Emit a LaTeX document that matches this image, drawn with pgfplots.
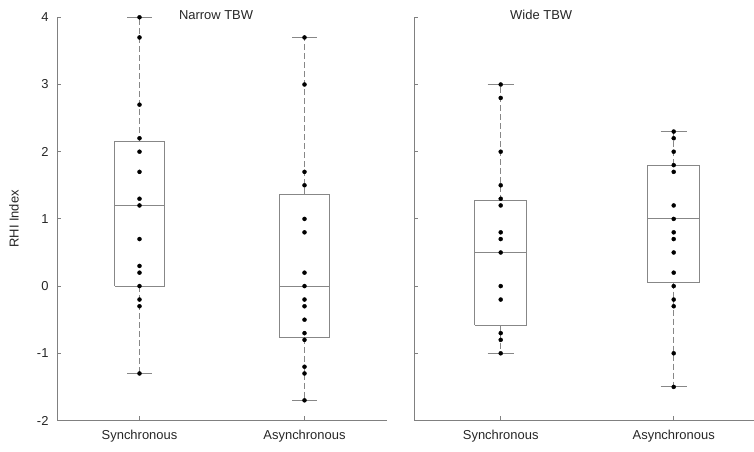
\documentclass[border=0pt]{standalone}
\usepackage{pgfplots}
\pgfplotsset{compat=1.18}
\usepackage{fontspec}
\setmainfont{Liberation Sans}
\definecolor{axgray}{RGB}{128,128,128}
\definecolor{boxgray}{RGB}{135,135,135}
\definecolor{txt}{RGB}{38,38,38}
\pgfplotsset{
  panel/.style={
    anchor=south west, y=67.2bp, ymin=-2, ymax=4, xmin=0.5,
    axis x line*=bottom, axis y line*=left,
    axis line style={axgray, line width=0.8bp},
    tick style={axgray, line width=0.8bp},
    tick align=inside, major tick length=4bp,
    xtick={1,2}, ytick={-2,-1,0,1,2,3,4},
    clip=false,
    font=\fontsize{13}{15}\selectfont,
    tick label style={txt, font=\fontsize{13}{15}\selectfont},
    xticklabel style={yshift=-6bp},
    yticklabel style={xshift=-5bp},
    /pgf/number format/assume math mode=true,
  },
  bx/.style={boxgray, line width=0.8bp, no markers},
  wh/.style={boxgray, line width=0.8bp, no markers, dash pattern=on 6bp off 3bp},
  dots/.style={only marks, mark=*, mark size=2bp, black},
}
\begin{document}
\begin{tikzpicture}
\useasboundingbox (0,0) rectangle (754bp,452bp);
% ---------------- Narrow TBW ----------------
\begin{axis}[panel, at={(57bp,31.5bp)}, x=165bp, xmax=2.5,
  xticklabels={Synchronous,Asynchronous},
  ylabel={RHI Index},
  ylabel style={txt, at={(axis description cs:-0.13,0.5)}, anchor=center}]
% Synchronous
\addplot[wh] coordinates {(1,2.15) (1,4.0)};
\addplot[wh] coordinates {(1,0) (1,-1.3)};
\addplot[bx] coordinates {(0.925,4.0) (1.075,4.0)};
\addplot[bx] coordinates {(0.925,-1.3) (1.075,-1.3)};
\addplot[bx] coordinates {(0.85,0) (1.15,0) (1.15,2.15) (0.85,2.15) (0.85,0)};
\addplot[bx] coordinates {(0.85,1.2) (1.15,1.2)};
\addplot[dots] coordinates {(1,4.0) (1,3.7) (1,2.7) (1,2.2) (1,2.0) (1,1.7) (1,1.3) (1,1.2) (1,0.7) (1,0.3) (1,0.2) (1,0) (1,-0.2) (1,-0.3) (1,-1.3)};
% Asynchronous
\addplot[wh] coordinates {(2,1.37) (2,3.7)};
\addplot[wh] coordinates {(2,-0.77) (2,-1.7)};
\addplot[bx] coordinates {(1.925,3.7) (2.075,3.7)};
\addplot[bx] coordinates {(1.925,-1.7) (2.075,-1.7)};
\addplot[bx] coordinates {(1.85,-0.77) (2.15,-0.77) (2.15,1.37) (1.85,1.37) (1.85,-0.77)};
\addplot[bx] coordinates {(1.85,0) (2.15,0)};
\addplot[dots] coordinates {(2,3.7) (2,3.0) (2,1.7) (2,1.5) (2,1.0) (2,0.8) (2,0.2) (2,0) (2,-0.2) (2,-0.3) (2,-0.5) (2,-0.7) (2,-0.8) (2,-1.2) (2,-1.3) (2,-1.7)};
\node[txt, font=\fontsize{13}{15}\selectfont] at (axis cs:1.464,4.03) {Narrow TBW};
\end{axis}
% ---------------- Wide TBW ----------------
\begin{axis}[panel, at={(414.2bp,31.5bp)}, x=173bp, xmax=2.464,
  xticklabels={Synchronous,Asynchronous},
  yticklabels={}]
% Synchronous
\addplot[wh] coordinates {(1,1.27) (1,3.0)};
\addplot[wh] coordinates {(1,-0.58) (1,-1.0)};
\addplot[bx] coordinates {(0.925,3.0) (1.075,3.0)};
\addplot[bx] coordinates {(0.925,-1.0) (1.075,-1.0)};
\addplot[bx] coordinates {(0.85,-0.58) (1.15,-0.58) (1.15,1.27) (0.85,1.27) (0.85,-0.58)};
\addplot[bx] coordinates {(0.85,0.5) (1.15,0.5)};
\addplot[dots] coordinates {(1,3.0) (1,2.8) (1,2.0) (1,1.5) (1,1.3) (1,1.2) (1,0.8) (1,0.7) (1,0.5) (1,0) (1,-0.2) (1,-0.7) (1,-0.8) (1,-1.0)};
% Asynchronous
\addplot[wh] coordinates {(2,1.8) (2,2.3)};
\addplot[wh] coordinates {(2,0.05) (2,-1.5)};
\addplot[bx] coordinates {(1.925,2.3) (2.075,2.3)};
\addplot[bx] coordinates {(1.925,-1.5) (2.075,-1.5)};
\addplot[bx] coordinates {(1.85,0.05) (2.15,0.05) (2.15,1.8) (1.85,1.8) (1.85,0.05)};
\addplot[bx] coordinates {(1.85,1.0) (2.15,1.0)};
\addplot[dots] coordinates {(2,2.3) (2,2.2) (2,2.0) (2,1.8) (2,1.7) (2,1.2) (2,1.0) (2,0.8) (2,0.7) (2,0.5) (2,0.2) (2,0) (2,-0.2) (2,-0.3) (2,-1.0) (2,-1.5)};
\node[txt, font=\fontsize{13}{15}\selectfont] at (axis cs:1.234,4.03) {Wide TBW};
\end{axis}
\end{tikzpicture}
\end{document}
